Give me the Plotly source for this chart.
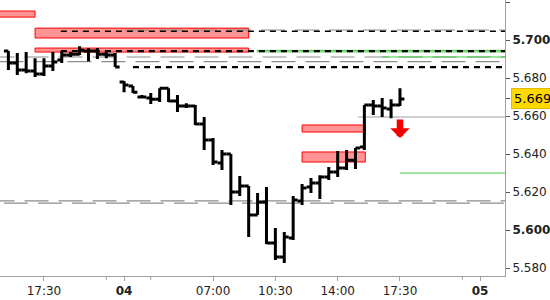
import plotly.graph_objects as go

# ---------------- data ----------------
bar_idx = list(range(-4, 41))
opens = [5.6942, 5.6879, 5.6842, 5.6837, 5.6821, 5.6863, 5.6895, 5.6921, 5.6926, 5.6942,
         5.6942, 5.6926, 5.6921, 5.6779, 5.6758, 5.6700, 5.6695, 5.6689, 5.6747, 5.6679,
         5.6653, 5.6653, 5.6558, 5.6474, 5.6353, 5.6400, 5.6200, 5.6232, 5.6079, 5.6147,
         5.5932, 5.5858, 5.5958, 5.6153, 5.6226, 5.6247, 5.6279, 5.6305, 5.6326, 5.6368,
         5.6437, 5.6658, 5.6653, 5.6637, 5.6658]
highs = [5.6942, 5.6932, 5.6937, 5.6905, 5.6905, 5.6937, 5.6942, 5.6937, 5.6968, 5.6958,
         5.6958, 5.6937, 5.6932, 5.6784, 5.6758, 5.6711, 5.6721, 5.6747, 5.6747, 5.6711,
         5.6668, 5.6658, 5.6595, 5.6484, 5.6421, 5.6400, 5.6284, 5.6232, 5.6195, 5.6226,
         5.6011, 5.5989, 5.6179, 5.6242, 5.6274, 5.6289, 5.6332, 5.6416, 5.6421, 5.6432,
         5.6658, 5.6684, 5.6695, 5.6689, 5.6747]
lows = [5.6842, 5.6816, 5.6826, 5.6805, 5.6811, 5.6837, 5.6879, 5.6911, 5.6921, 5.6889,
        5.6900, 5.6905, 5.6858, 5.6726, 5.6721, 5.6695, 5.6663, 5.6674, 5.6674, 5.6621,
        5.6642, 5.6553, 5.6421, 5.6342, 5.6316, 5.6132, 5.6179, 5.5963, 5.6079, 5.5926,
        5.5842, 5.5826, 5.5947, 5.6132, 5.6195, 5.6163, 5.6263, 5.6279, 5.6316, 5.6321,
        5.6421, 5.6605, 5.6595, 5.6589, 5.6653]
closes = [5.6879, 5.6842, 5.6837, 5.6821, 5.6863, 5.6884, 5.6921, 5.6926, 5.6947, 5.6942,
          5.6926, 5.6921, 5.6858, 5.6763, 5.6726, 5.6700, 5.6689, 5.6747, 5.6679, 5.6653,
          5.6653, 5.6558, 5.6474, 5.6358, 5.6400, 5.6200, 5.6232, 5.6079, 5.6147, 5.5932,
          5.5858, 5.5963, 5.6158, 5.6221, 5.6247, 5.6279, 5.6305, 5.6326, 5.6368, 5.6432,
          5.6658, 5.6653, 5.6642, 5.6658, 5.6690]

last_price = 5.669

x_tick_idx = [0, 9, 19, 26, 33, 40, 49]
x_tick_labels = ["17:30", "<b>04</b>", "07:00", "10:30", "14:00", "17:30", "<b>05</b>"]
x_minor_idx = [7, 12, 47]

y_tick_vals = [5.58, 5.60, 5.62, 5.64, 5.66, 5.68, 5.70, 5.72]
y_tick_labels = ["5.580", "<b>5.600</b>", "5.620", "5.640", "5.660", "5.680", "<b>5.700</b>", "5.720"]

# supply / demand zones
zone_x0 = [-6.0, -1.0, -1.0, 29.0, 29.0]
zone_x1 = [-1.0, 23.0, 23.0, 36.1, 36.1]
zone_lo = [5.7121, 5.7011, 5.6937, 5.6516, 5.6358]
zone_hi = [5.7153, 5.7063, 5.6958, 5.6553, 5.6411]

# horizontal levels
black_dash_prices = [5.7047, 5.6942, 5.6858]
black_dash_start = [1.9, 1.9, 10.0]
black_dash_width = [1.5, 2.2, 2.2]

gray_dash_prices = [5.7053, 5.6911, 5.6887, 5.6153, 5.6142]
gray_dash_start = [9.1, -6.0, -5.0, -6.0, -4.5]

green_prices = [5.6946, 5.6938, 5.6911, 5.6300]
green_start = [23.9, 23.9, 38.0, 40.0]

gray_solid_prices = [5.6595]
gray_solid_start = [35.3]

arrow_idx = 40
arrow_tip_price = 5.6484

x_range = [-4.94, 51.8]
y_range = [5.5758, 5.7211]

# ---------------- figure ----------------
fig = go.Figure()

fig.add_trace(go.Ohlc(
    x=bar_idx, open=opens, high=highs, low=lows, close=closes,
    increasing=dict(line=dict(color="black", width=3)),
    decreasing=dict(line=dict(color="black", width=3)),
    tickwidth=0.5, hoverinfo="skip", showlegend=False,
))

shapes = []
for x0, x1, lo, hi in zip(zone_x0, zone_x1, zone_lo, zone_hi):
    shapes.append(dict(type="rect", xref="x", yref="y", x0=x0, x1=x1, y0=lo, y1=hi,
                       fillcolor="#FF9494", line=dict(color="#FF0000", width=1), layer="below"))
for p, s in zip(gray_dash_prices, gray_dash_start):
    shapes.append(dict(type="line", xref="x", yref="y", x0=s, x1=60, y0=p, y1=p,
                       line=dict(color="#8C8C8C", width=1.2, dash="24px,10px"), layer="below"))
for p, s in zip(green_prices, green_start):
    shapes.append(dict(type="line", xref="x", yref="y", x0=s, x1=60, y0=p, y1=p,
                       line=dict(color="#3CC83C", width=1), layer="below"))
for p, s in zip(gray_solid_prices, gray_solid_start):
    shapes.append(dict(type="line", xref="x", yref="y", x0=s, x1=60, y0=p, y1=p,
                       line=dict(color="#A0A0A0", width=1), layer="below"))
for p, s, w in zip(black_dash_prices, black_dash_start, black_dash_width):
    shapes.append(dict(type="line", xref="x", yref="y", x0=s, x1=60, y0=p, y1=p,
                       line=dict(color="black", width=w, dash="6px,5px"), layer="below"))
# minor x ticks
for m in x_minor_idx:
    shapes.append(dict(type="line", xref="x", yref="paper", x0=m, x1=m, y0=0, y1=-0.014,
                       line=dict(color="#A0A0A0", width=1)))

annotations = [
    dict(x=arrow_idx, y=arrow_tip_price, xref="x", yref="y", ax=0, ay=-20,
         showarrow=True, arrowhead=1, arrowsize=0.5, arrowwidth=6.5, arrowcolor="#F00000", text=""),
    dict(x=1, xref="paper", y=last_price, yref="y", xanchor="left", yanchor="middle",
         xshift=6, text="5.669", showarrow=False,
         font=dict(family="DejaVu Sans", size=13, color="black"),
         bgcolor="#FFD800", bordercolor="#E6B800", borderwidth=1, borderpad=2),
]

fig.update_layout(
    width=550, height=300,
    margin=dict(l=0, r=45, t=0, b=24),
    paper_bgcolor="white", plot_bgcolor="white",
    shapes=shapes, annotations=annotations,
    showlegend=False,
    font=dict(family="DejaVu Sans", size=12, color="#222222"),
    xaxis=dict(range=x_range, rangeslider=dict(visible=False), showgrid=False, zeroline=False,
               tickmode="array", tickvals=x_tick_idx, ticktext=x_tick_labels,
               ticks="outside", ticklen=4, tickcolor="#A0A0A0",
               showline=True, linecolor="#A0A0A0", linewidth=1,
               tickfont=dict(size=12, color="#222222")),
    yaxis=dict(range=y_range, side="right", showgrid=False, zeroline=False,
               tickmode="array", tickvals=y_tick_vals + [last_price],
               ticktext=y_tick_labels + [""],
               ticks="outside", ticklen=4, tickcolor="#555555",
               showline=True, linecolor="#A0A0A0", linewidth=1,
               tickfont=dict(size=12, color="#222222")),
)

fig.write_html("out.html")
